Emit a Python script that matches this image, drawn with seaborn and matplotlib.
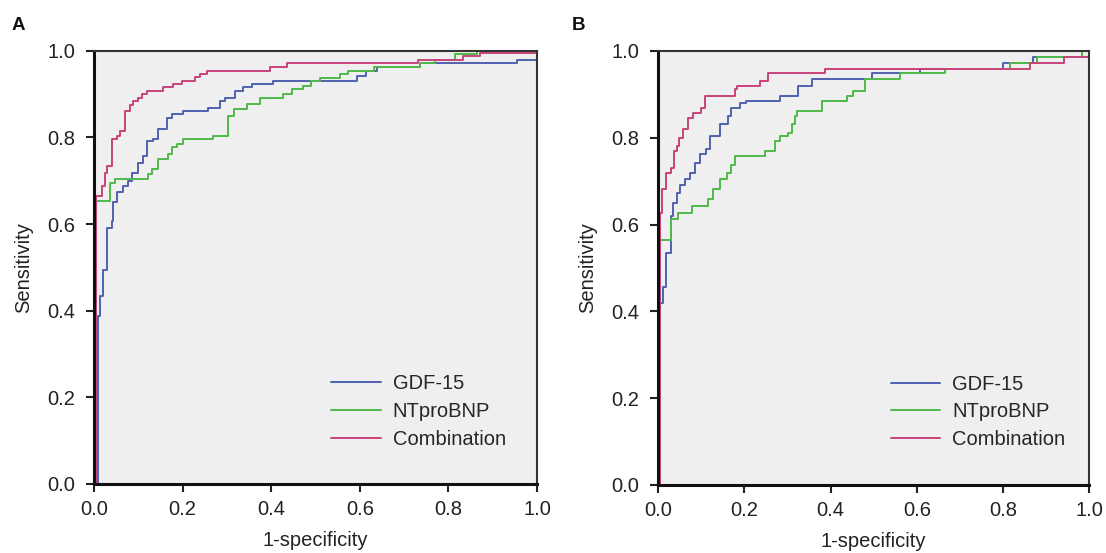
import pandas as pd
import matplotlib.pyplot as plt
import seaborn as sns
from matplotlib.lines import Line2D

# -----------------------------
# ROC breakpoints (steps-post)
# -----------------------------

markers = ["GDF-15", "NTproBNP", "Combination"]
colors = {"GDF-15": "#4f62b0", "NTproBNP": "#4fba4a", "Combination": "#c9437a"}

# Panel A
a_gdf_fpr = [0.0, 0.008, 0.014, 0.020, 0.030, 0.040, 0.044, 0.051, 0.066, 0.077, 0.085,
             0.100, 0.111, 0.119, 0.134, 0.145, 0.164, 0.175, 0.202, 0.258, 0.284, 0.296,
             0.318, 0.337, 0.356, 0.405, 0.593, 0.615, 0.638, 0.736, 0.954, 1.0]
a_gdf_tpr = [0.0, 0.387, 0.433, 0.495, 0.592, 0.607, 0.650, 0.673, 0.688, 0.700, 0.719,
             0.742, 0.758, 0.792, 0.796, 0.819, 0.846, 0.854, 0.862, 0.869, 0.885, 0.892,
             0.908, 0.916, 0.923, 0.931, 0.943, 0.954, 0.962, 0.972, 0.980, 0.980]

a_nt_fpr = [0.0, 0.004, 0.036, 0.047, 0.123, 0.130, 0.145, 0.168, 0.175, 0.187, 0.202,
            0.269, 0.303, 0.315, 0.345, 0.375, 0.427, 0.446, 0.472, 0.491, 0.510, 0.555,
            0.574, 0.631, 0.736, 0.770, 0.815, 0.864, 1.0]
a_nt_tpr = [0.0, 0.653, 0.696, 0.704, 0.715, 0.727, 0.750, 0.762, 0.777, 0.785, 0.796,
            0.804, 0.850, 0.866, 0.877, 0.892, 0.900, 0.911, 0.920, 0.930, 0.938, 0.946,
            0.954, 0.962, 0.972, 0.980, 0.993, 1.0, 1.0]

a_comb_fpr = [0.0, 0.0045, 0.017, 0.025, 0.030, 0.040, 0.051, 0.059, 0.070, 0.081, 0.089,
              0.100, 0.108, 0.119, 0.156, 0.179, 0.198, 0.228, 0.239, 0.254, 0.397, 0.435,
              0.732, 0.834, 0.871, 1.0]
a_comb_tpr = [0.0, 0.665, 0.688, 0.719, 0.735, 0.796, 0.803, 0.815, 0.862, 0.874, 0.885,
              0.892, 0.900, 0.908, 0.916, 0.923, 0.931, 0.939, 0.946, 0.954, 0.962, 0.972,
              0.980, 0.988, 0.995, 0.995]

# Panel B
b_gdf_fpr = [0.0, 0.0055, 0.0116, 0.018, 0.029, 0.035, 0.043, 0.050, 0.062, 0.074, 0.085,
             0.097, 0.112, 0.120, 0.143, 0.162, 0.170, 0.190, 0.205, 0.282, 0.325, 0.356,
             0.495, 0.607, 0.800, 0.870, 1.0]
b_gdf_tpr = [0.0, 0.419, 0.457, 0.535, 0.620, 0.650, 0.673, 0.692, 0.704, 0.719, 0.742,
             0.762, 0.773, 0.804, 0.831, 0.850, 0.869, 0.881, 0.885, 0.896, 0.919, 0.935,
             0.948, 0.959, 0.973, 0.985, 0.985]

b_nt_fpr = [0.0, 0.002, 0.029, 0.046, 0.078, 0.116, 0.128, 0.143, 0.159, 0.170, 0.178,
            0.248, 0.271, 0.282, 0.302, 0.310, 0.317, 0.321, 0.379, 0.437, 0.452, 0.480,
            0.561, 0.665, 0.816, 0.878, 0.982, 1.0]
b_nt_tpr = [0.0, 0.565, 0.612, 0.627, 0.642, 0.658, 0.681, 0.704, 0.719, 0.738, 0.758,
            0.769, 0.792, 0.804, 0.811, 0.831, 0.850, 0.862, 0.885, 0.896, 0.908, 0.935,
            0.948, 0.959, 0.972, 0.985, 1.0, 1.0]

b_comb_fpr = [0.0, 0.004, 0.010, 0.019, 0.031, 0.036, 0.043, 0.049, 0.057, 0.070, 0.081,
              0.100, 0.108, 0.178, 0.182, 0.236, 0.255, 0.387, 0.862, 0.940, 1.0]
b_comb_tpr = [0.0, 0.627, 0.681, 0.719, 0.731, 0.769, 0.781, 0.800, 0.819, 0.846, 0.858,
              0.869, 0.896, 0.912, 0.919, 0.931, 0.950, 0.959, 0.972, 0.985, 0.985]

panels = {
    "A": [(a_gdf_fpr, a_gdf_tpr), (a_nt_fpr, a_nt_tpr), (a_comb_fpr, a_comb_tpr)],
    "B": [(b_gdf_fpr, b_gdf_tpr), (b_nt_fpr, b_nt_tpr), (b_comb_fpr, b_comb_tpr)],
}

tick_vals = [0, 0.2, 0.4, 0.6, 0.8, 1.0]
tick_text = ["0.0", "0.2", "0.4", "0.6", "0.8", "1.0"]

# -----------------------------
# Style
# -----------------------------

sns.set_style("ticks")
plt.rcParams["font.family"] = ["Liberation Sans", "DejaVu Sans"]

fig = plt.figure(figsize=(11.06, 5.53), dpi=100)

boxes = {
    "A": [0.085, 0.125, 0.4005, 0.783],
    "B": [0.595, 0.123, 0.390, 0.785],
}
letter_pos = {"A": (0.010, 0.946), "B": (0.517, 0.946)}
legend_anchor = {"A": (0.495, 0.296), "B": (0.498, 0.296)}

for name, series in panels.items():

    ax = fig.add_axes(boxes[name])
    ax.set_facecolor("#efefef")

    frames = []
    for marker, (fpr, tpr) in zip(markers, series):
        frames.append(pd.DataFrame({"fpr": fpr, "tpr": tpr, "Marker": marker}))
    df = pd.concat(frames, ignore_index=True)

    sns.lineplot(
        data=df,
        x="fpr",
        y="tpr",
        hue="Marker",
        palette=colors,
        estimator=None,
        sort=False,
        drawstyle="steps-post",
        linewidth=1.4,
        legend=False,
        ax=ax
    )

    ax.set_xlim(0, 1)
    ax.set_ylim(0, 1)
    ax.set_xticks(tick_vals)
    ax.set_yticks(tick_vals)
    ax.set_xticklabels(tick_text)
    ax.set_yticklabels(tick_text)
    ax.tick_params(axis="both", labelsize=14.5, length=5.5, width=1.5,
                   direction="out", colors="#222222", labelcolor="#222222")
    ax.tick_params(axis="x", pad=6)
    ax.tick_params(axis="y", pad=8)

    ax.set_xlabel("1-specificity", fontsize=14.5, color="#222222", labelpad=8.5)
    ax.set_ylabel("Sensitivity", fontsize=14.5, color="#222222", labelpad=10)

    for side in ["left", "bottom"]:
        ax.spines[side].set_linewidth(2.2)
        ax.spines[side].set_color("#111111")
    for side in ["top", "right"]:
        ax.spines[side].set_visible(True)
        ax.spines[side].set_linewidth(1.5)
        ax.spines[side].set_color("#333333")

    handles = [Line2D([0], [0], color=colors[m], linewidth=1.4) for m in markers]
    ax.legend(
        handles,
        markers,
        loc="upper left",
        bbox_to_anchor=legend_anchor[name],
        frameon=False,
        fontsize=14.5,
        handlelength=2.45,
        handletextpad=0.6,
        labelspacing=0.44
    )

    fig.text(letter_pos[name][0], letter_pos[name][1], name,
             fontsize=13.5, fontweight="bold", color="#111111")

plt.savefig("out.png", dpi=100)
plt.close()
